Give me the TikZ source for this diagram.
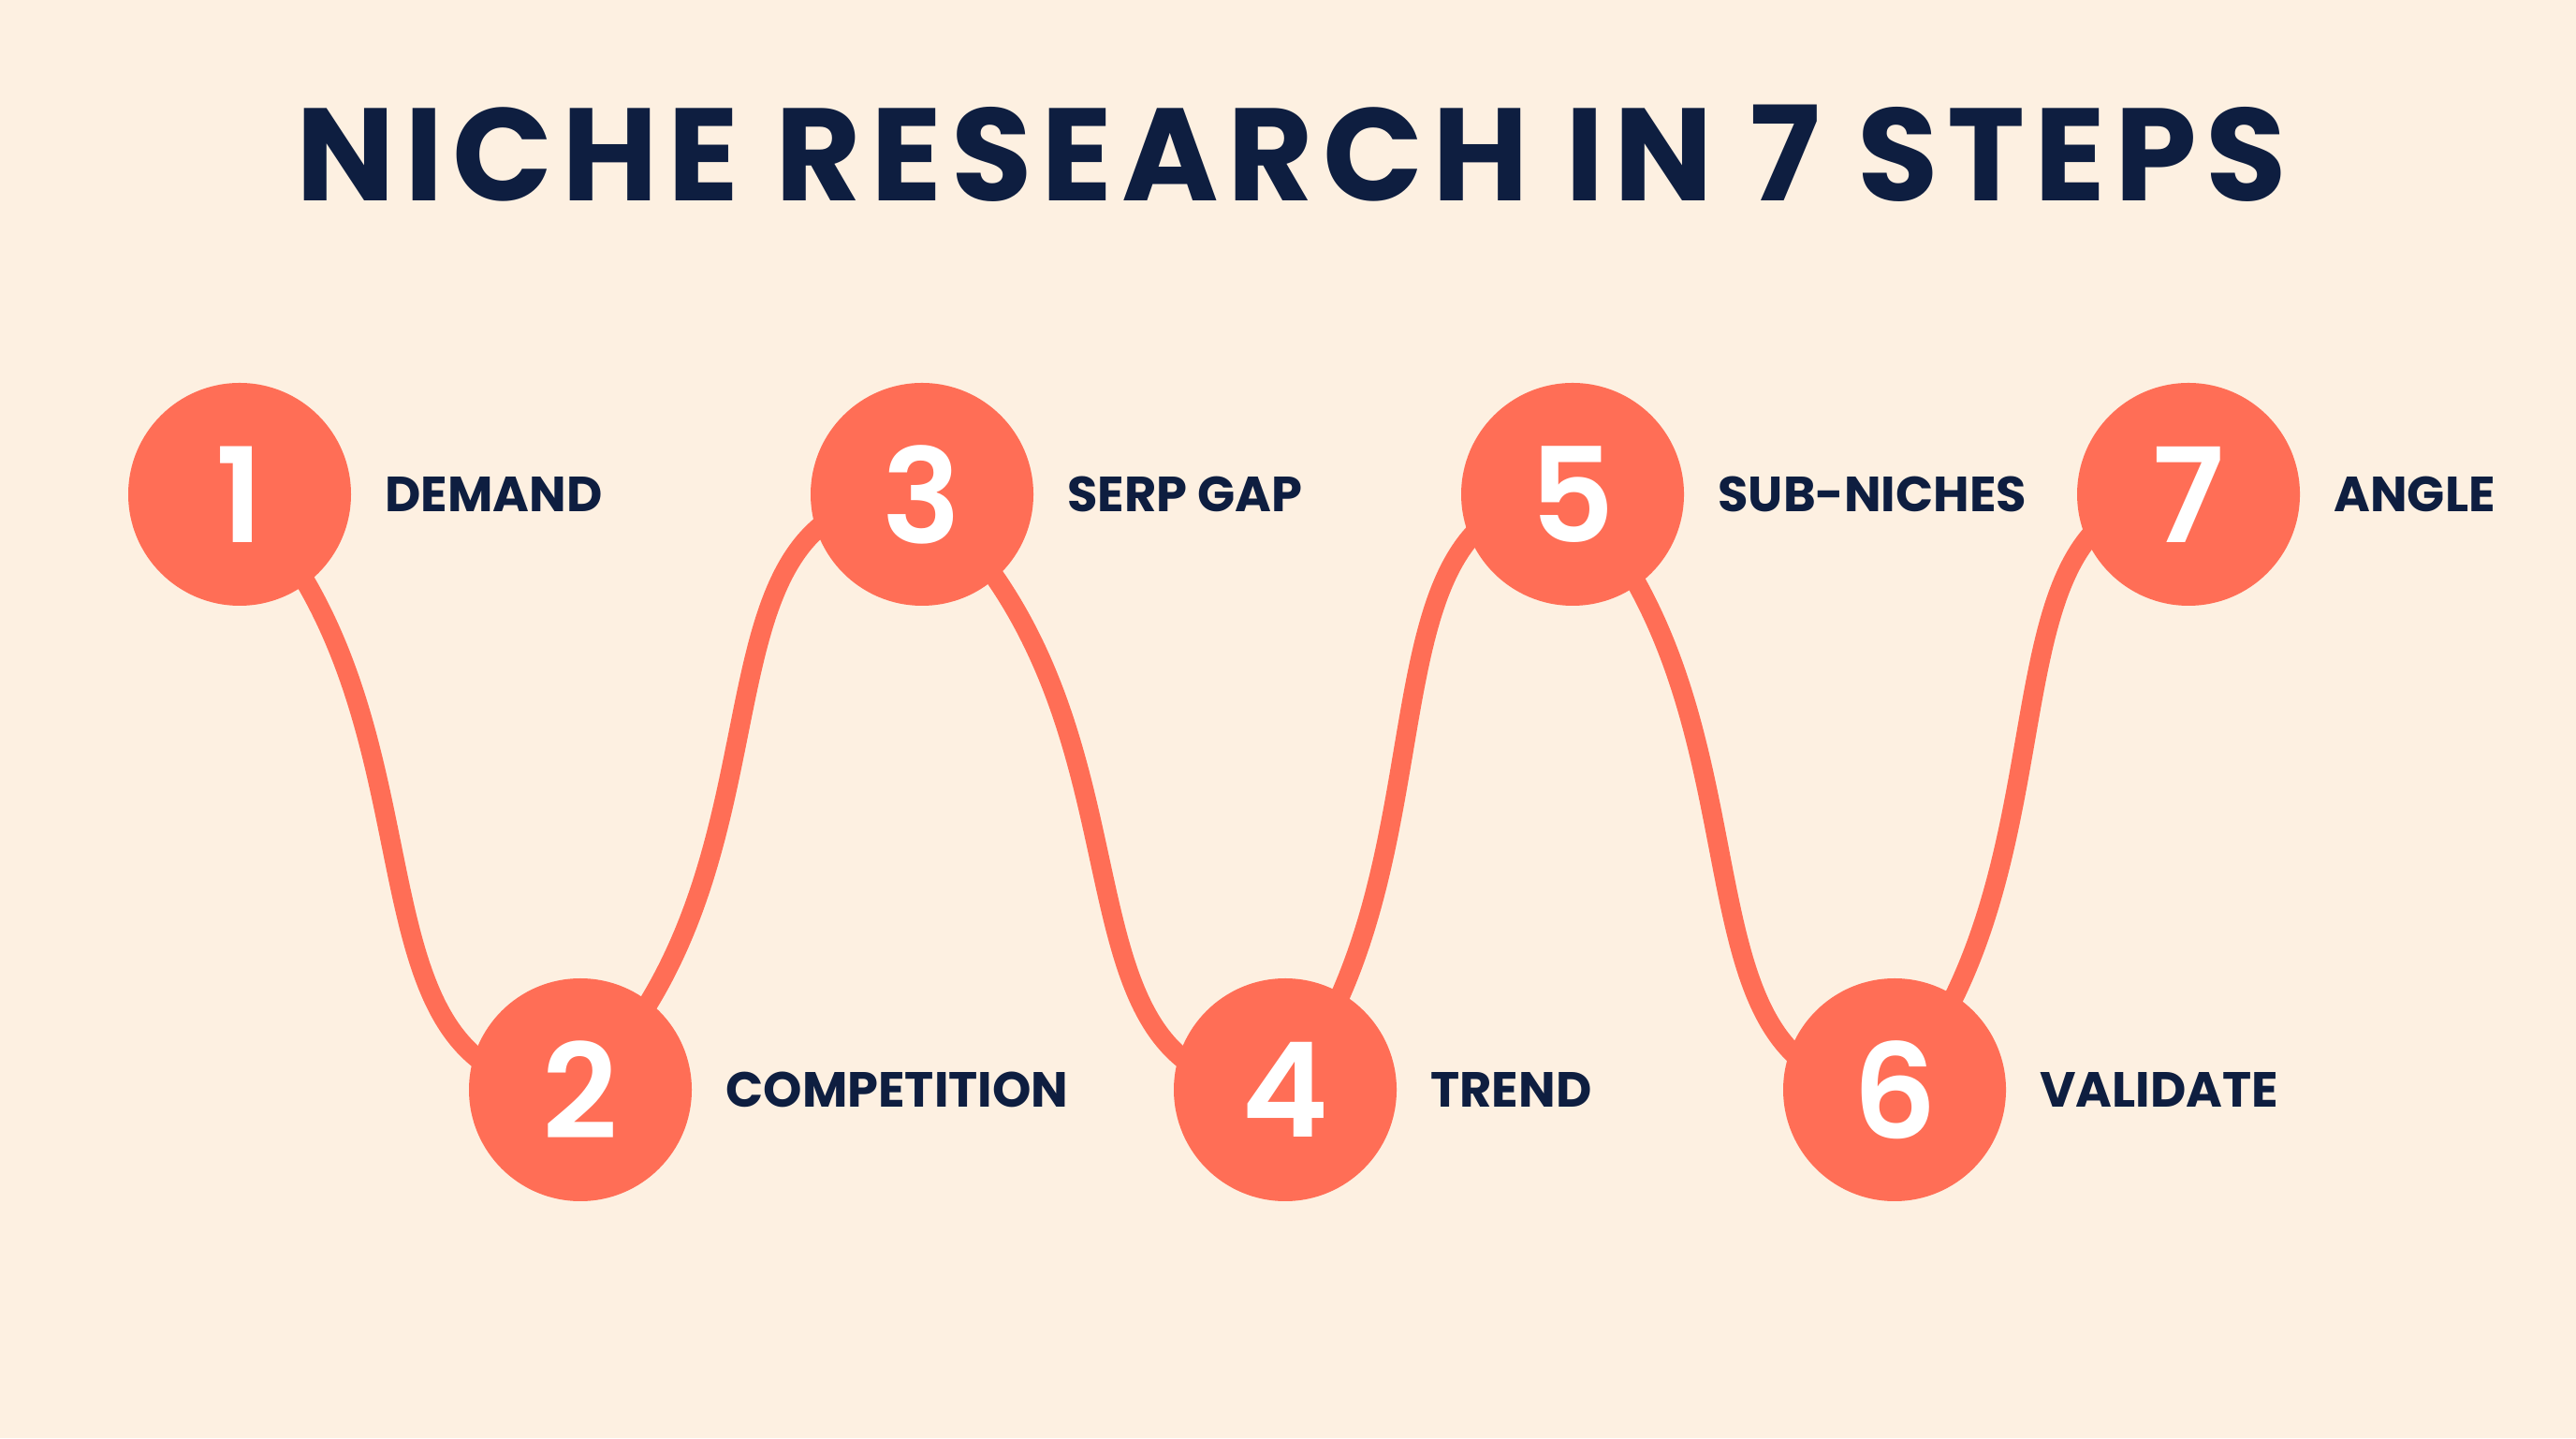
\documentclass[tikz,border=0pt]{standalone}
\usepackage{fontspec}
\setmainfont{Poppins}
\newfontfamily\digitfont{Poppins}[UprightFont=* SemiBold]
\usetikzlibrary{positioning}

\definecolor{cream}{HTML}{FDF0E1}
\definecolor{coral}{HTML}{FF6E56}
\definecolor{navy}{HTML}{0E1E40}

\pgfdeclarelayer{paper}
\pgfdeclarelayer{wave}
\pgfsetlayers{paper,wave,main}

\tikzset{
  stepdot/.style={circle, fill=coral, minimum size=2.38cm, inner sep=0pt, text=white, font=\digitfont\fontsize{40}{40}\selectfont},
  steplabel/.style={right=0.35cm of #1, inner sep=0pt, text=navy, font=\bfseries\fontsize{15}{15}\selectfont},
  wave/.style={draw=coral, line width=0.21cm},
}

\begin{document}
\begin{tikzpicture}

% Fondo
\begin{pgfonlayer}{paper}
\fill[cream] (0,0) rectangle (27.52,15.36);
\end{pgfonlayer}
\useasboundingbox (0,0) rectangle (27.52,15.36);

% Titulo
\node[text=navy, font=\bfseries\addfontfeatures{LetterSpace=7}\fontsize{40}{40}\selectfont] (title) at (13.80,13.72) {NICHE RESEARCH IN 7 STEPS};

% Pasos (arriba y abajo)
\node[stepdot] (s1) at (2.56,10.08) {1};
\node[stepdot] (s2) at (6.20,3.72) {2};
\node[stepdot] (s3) at (9.85,10.08) {3};
\node[stepdot] (s4) at (13.73,3.72) {4};
\node[stepdot] (s5) at (16.80,10.08) {5};
\node[stepdot] (s6) at (20.24,3.72) {6};
\node[stepdot] (s7) at (23.38,10.08) {7};

% Etiquetas
\node[steplabel=s1] (l1) {DEMAND};
\node[steplabel=s2] (l2) {COMPETITION};
\node[steplabel=s3] (l3) {SERP GAP};
\node[steplabel=s4] (l4) {TREND};
\node[steplabel=s5] (l5) {SUB-NICHES};
\node[steplabel=s6] (l6) {VALIDATE};
\node[steplabel=s7] (l7) {ANGLE};

% Onda entre los pasos
\begin{pgfonlayer}{wave}
\draw[wave] (s1.center) .. controls +(2.40,-2.48) and +(-2.73,0) .. (s2.center);
\draw[wave] (s2.center) .. controls +(2.50,2.48) and +(-2.70,0) .. (s3.center);
\draw[wave] (s3.center) .. controls +(2.76,-2.48) and +(-2.75,0) .. (s4.center);
\draw[wave] (s4.center) .. controls +(1.90,2.48) and +(-2.40,0) .. (s5.center);
\draw[wave] (s5.center) .. controls +(2.30,-2.48) and +(-2.55,0) .. (s6.center);
\draw[wave] (s6.center) .. controls +(2.07,2.48) and +(-2.36,0) .. (s7.center);
\end{pgfonlayer}

\end{tikzpicture}
\end{document}
